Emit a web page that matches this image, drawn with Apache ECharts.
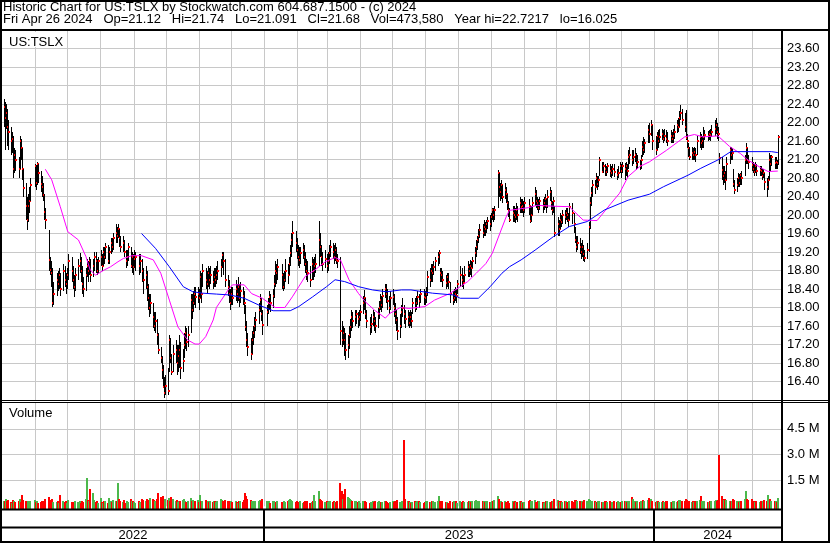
<!DOCTYPE html>
<html><head><meta charset="utf-8">
<script src="https://cdn.jsdelivr.net/npm/echarts@6.0.0/dist/echarts.min.js"></script>
<style>html,body{margin:0;padding:0;background:#fff}#c{width:830px;height:543px}</style>
</head><body><div id="c"></div><script>
// ---------- DATA ----------
const firstDay = [2022, 4, 2];   // May 2 2022
const lastDay = [2024, 3, 26];   // Apr 26 2024
const holidays = ['2022-05-30','2022-06-20','2022-07-04','2022-09-05','2022-11-24','2022-12-26',
 '2023-01-02','2023-01-16','2023-02-20','2023-04-07','2023-05-29','2023-06-19','2023-07-04','2023-09-04',
 '2023-11-23','2023-12-25','2024-01-01','2024-01-15','2024-02-19','2024-03-29'];

const close = [
22.34,22.10,22.20,21.90,21.80,21.60,21.65,21.00,21.30,21.20,
21.00,21.60,21.44,21.00,20.58,20.20,19.90,20.20,20.30,20.65,
21.05,20.70,21.10,20.90,20.67,20.60,20.43,20.07,19.89,19.03,
18.81,18.74,18.09,18.30,18.60,18.50,18.70,18.40,18.80,18.60,
18.50,18.70,19.00,18.80,18.60,18.45,18.70,18.90,19.00,18.80,
18.50,18.40,18.70,18.90,18.80,19.00,18.70,18.90,19.10,19.00,
18.80,19.00,19.10,18.90,19.20,19.10,19.30,19.00,19.20,19.40,
19.30,19.50,19.60,19.55,19.70,19.50,19.30,19.40,19.20,19.00,
19.10,19.30,18.90,19.10,18.88,19.05,19.10,18.90,19.00,18.80,
18.60,18.70,18.45,18.20,18.00,18.10,17.80,17.60,17.70,17.40,
17.08,16.90,16.65,16.29,16.15,16.30,16.20,17.30,16.90,16.60,
17.00,17.08,16.80,16.95,17.08,16.70,16.85,17.20,17.44,17.26,
17.40,18.16,17.95,18.10,18.30,18.23,18.30,18.20,18.67,18.30,
18.80,18.60,18.50,18.75,18.60,18.70,18.55,18.65,18.60,18.70,
18.80,18.88,19.13,19.00,18.60,18.45,18.30,18.10,18.30,18.20,
18.40,18.30,18.45,18.20,18.35,18.25,18.10,17.58,17.30,17.15,
17.00,17.30,17.44,17.60,17.73,17.95,18.16,17.87,17.62,17.90,
18.09,18.23,18.10,18.25,18.50,18.80,18.74,18.88,18.70,18.45,
18.60,18.80,18.70,18.95,19.17,19.46,19.60,19.40,19.24,19.10,
19.03,19.17,19.25,19.10,18.95,18.80,18.74,18.60,18.95,18.80,
18.90,18.95,19.46,19.30,19.10,18.95,19.05,18.90,19.00,19.17,
19.30,19.20,19.10,19.25,19.03,19.00,17.50,17.30,17.45,17.30,
17.08,17.20,17.40,17.58,17.80,17.70,17.80,17.85,17.75,17.80,
17.90,18.09,18.20,17.87,17.70,17.58,17.65,17.80,17.70,17.60,
17.85,18.00,18.16,18.05,18.25,18.41,18.30,18.15,18.00,18.20,
18.23,18.00,17.85,17.73,17.50,17.60,17.90,18.00,17.85,17.75,
17.80,17.66,17.80,17.70,18.09,18.00,18.10,18.23,18.15,18.30,
18.23,18.20,18.30,18.67,18.60,18.80,18.75,18.88,19.00,19.10,
19.17,18.74,18.70,18.60,18.52,18.65,18.55,18.30,18.16,18.20,
18.30,18.25,18.50,18.70,18.60,18.52,18.70,18.88,18.80,18.90,
18.85,19.00,19.17,19.30,19.46,19.55,19.67,19.60,19.75,19.70,
19.80,19.86,19.80,19.95,20.10,20.00,20.10,20.90,20.60,20.50,
20.65,20.40,20.55,20.45,20.25,20.10,19.90,20.05,20.00,19.95,
20.10,20.00,20.25,20.18,20.20,20.10,20.25,20.20,19.86,20.00,
20.25,20.45,20.30,20.25,20.15,20.30,20.20,20.25,20.35,20.20,
20.40,20.50,20.25,20.10,20.30,19.60,19.80,19.70,19.90,19.85,
20.00,19.95,20.05,20.00,19.90,20.18,20.05,19.80,19.46,19.30,
19.40,19.30,19.20,19.30,19.15,19.06,19.25,19.75,20.25,20.47,
20.65,20.60,20.80,20.68,20.75,21.19,20.94,21.05,21.00,20.94,
21.05,20.95,20.90,21.00,20.94,20.86,20.90,21.05,20.95,21.05,
21.00,21.05,20.95,21.26,21.30,21.19,21.25,21.30,21.08,21.15,
21.05,21.20,21.48,21.40,21.55,21.84,21.75,21.95,21.60,21.40,
21.70,21.60,21.69,21.75,21.65,21.70,21.65,21.60,21.70,21.65,
21.70,21.80,21.95,21.90,22.10,22.20,22.05,21.90,21.66,21.60,
21.44,21.26,21.35,21.30,21.37,21.30,21.60,21.69,21.55,21.60,
21.69,21.73,21.70,21.75,21.73,21.80,21.87,21.95,21.80,21.75,
21.23,20.97,20.85,20.90,20.75,21.10,21.40,21.30,21.35,20.68,
20.54,20.65,20.80,20.70,20.86,20.80,21.20,21.44,21.20,21.15,
21.08,21.00,20.94,21.05,20.95,20.97,20.95,20.85,20.90,20.72,
20.60,20.75,21.19,21.10,21.25,21.12,21.15,21.12,21.68];

const high = [
22.50,22.45,22.40,22.30,22.05,21.90,21.80,21.70,21.45,21.40,
21.25,21.70,21.65,21.45,21.00,20.70,20.40,20.45,20.60,20.80,
21.10,21.08,21.15,21.10,20.95,20.85,20.70,20.45,20.15,19.67,
19.10,19.00,18.85,18.55,18.75,18.80,18.85,18.75,18.95,18.90,
18.75,18.85,19.15,19.10,18.90,18.70,18.85,19.05,19.17,19.10,
18.90,18.65,18.85,19.05,19.00,19.10,19.05,19.05,19.20,19.20,
19.05,19.10,19.25,19.15,19.30,19.30,19.40,19.35,19.30,19.50,
19.50,19.60,19.80,19.75,19.80,19.70,19.55,19.55,19.45,19.25,
19.25,19.40,19.30,19.20,19.15,19.25,19.20,19.15,19.15,19.05,
18.85,18.90,18.80,18.50,18.30,18.30,18.10,17.90,17.90,17.75,
17.45,17.15,16.95,16.75,16.50,16.55,16.70,17.40,17.35,17.00,
17.20,17.30,17.20,17.20,17.40,17.25,17.10,17.45,17.60,17.55,
17.60,18.30,18.30,18.35,18.45,18.45,18.45,18.40,18.80,18.75,
18.95,18.85,18.80,18.90,18.85,18.90,18.80,18.85,18.85,18.90,
19.00,19.05,19.20,19.20,19.05,18.70,18.60,18.40,18.45,18.45,
18.60,18.50,18.65,18.50,18.55,18.45,18.35,18.05,17.70,17.45,
17.35,17.50,17.60,17.80,17.90,18.10,18.30,18.20,17.95,18.05,
18.20,18.35,18.30,18.40,18.70,19.00,18.95,19.05,18.95,18.75,
18.80,19.05,18.95,19.10,19.35,19.60,19.86,19.65,19.50,19.35,
19.30,19.30,19.40,19.35,19.20,19.05,19.00,18.90,19.10,19.05,
19.10,19.15,19.86,19.60,19.35,19.20,19.25,19.15,19.20,19.35,
19.45,19.40,19.35,19.40,19.30,19.15,19.10,17.70,17.60,17.55,
17.45,17.40,17.60,17.75,17.95,17.90,17.95,17.95,17.90,17.95,
18.05,18.25,18.38,18.20,17.95,17.80,17.85,17.95,17.90,17.80,
18.00,18.15,18.30,18.25,18.40,18.50,18.50,18.40,18.25,18.35,
18.40,18.30,18.10,17.95,17.80,17.85,18.05,18.20,18.05,17.95,
17.95,17.90,17.95,17.90,18.20,18.20,18.25,18.35,18.30,18.40,
18.40,18.35,18.45,18.80,18.85,18.95,18.95,19.00,19.10,19.20,
19.25,18.85,18.85,18.80,18.70,18.75,18.75,18.55,18.35,18.40,
18.45,18.40,18.60,18.90,18.85,18.70,18.90,19.00,18.95,19.03,
19.00,19.10,19.30,19.45,19.55,19.70,19.80,19.80,19.89,19.85,
19.90,19.95,20.00,20.05,20.15,20.15,20.20,20.97,20.90,20.70,
20.75,20.65,20.70,20.60,20.45,20.30,20.15,20.20,20.20,20.15,
20.25,20.20,20.40,20.35,20.35,20.30,20.40,20.35,20.20,20.20,
20.40,20.60,20.55,20.40,20.35,20.40,20.35,20.40,20.45,20.35,
20.55,20.60,20.55,20.30,20.40,20.20,19.95,19.90,20.05,20.00,
20.10,20.10,20.15,20.15,20.05,20.25,20.25,20.05,19.75,19.55,
19.55,19.50,19.40,19.45,19.35,19.25,19.40,19.85,20.40,20.60,
20.76,20.75,20.90,20.85,20.85,21.25,21.15,21.15,21.10,21.05,
21.12,21.10,21.05,21.10,21.10,21.00,21.05,21.15,21.10,21.15,
21.12,21.15,21.10,21.40,21.48,21.40,21.40,21.45,21.33,21.30,
21.20,21.30,21.60,21.69,21.65,21.95,22.00,22.05,21.95,21.70,
21.80,21.84,21.87,21.87,21.84,21.85,21.84,21.80,21.84,21.80,
21.85,21.95,22.05,22.10,22.25,22.38,22.30,22.20,22.27,21.75,
21.55,21.48,21.48,21.45,21.48,21.45,21.70,21.80,21.75,21.70,
21.91,21.84,21.82,21.84,21.85,21.95,22.05,22.09,22.00,21.90,
21.33,21.25,21.05,21.05,20.95,21.25,21.48,21.48,21.45,21.00,
20.75,20.80,20.90,20.88,20.90,20.95,21.30,21.55,21.45,21.30,
21.26,21.15,21.10,21.15,21.10,21.05,21.05,21.00,21.00,20.90,
20.80,20.85,21.33,21.30,21.30,21.25,21.25,21.20,21.74];

const low = [
21.90,21.40,21.85,21.50,21.40,21.30,21.35,20.80,20.90,20.95,
20.80,21.00,21.20,20.75,20.40,19.90,19.67,19.85,20.05,20.30,
20.60,20.55,20.65,20.70,20.50,20.40,20.30,19.90,19.70,18.80,
18.70,18.45,18.02,18.05,18.25,18.35,18.40,18.25,18.35,18.45,
18.30,18.40,18.60,18.55,18.40,18.23,18.35,18.60,18.75,18.55,
18.30,18.23,18.35,18.65,18.55,18.70,18.55,18.65,18.80,18.75,
18.70,18.75,18.90,18.80,18.90,18.95,19.05,18.95,18.95,19.15,
19.20,19.25,19.40,19.40,19.50,19.30,19.20,19.20,19.10,18.85,
18.90,19.00,18.85,18.75,18.70,18.85,18.80,18.70,18.75,18.55,
18.30,18.40,18.15,17.95,17.80,17.85,17.55,17.50,17.45,17.20,
17.00,16.80,16.45,16.25,16.04,16.10,16.10,16.60,16.80,16.55,
16.60,16.80,16.55,16.60,16.70,16.45,16.60,16.90,17.10,17.05,
17.15,17.45,17.75,17.90,18.05,18.00,18.10,17.95,18.20,18.10,
18.45,18.40,18.30,18.45,18.40,18.50,18.40,18.45,18.45,18.50,
18.60,18.65,18.85,18.70,18.45,18.25,18.10,17.95,18.05,18.05,
18.15,18.10,18.15,18.02,18.10,18.05,17.85,17.50,17.15,16.95,
16.87,17.00,17.20,17.35,17.50,17.65,17.90,17.70,17.40,17.60,
17.85,17.95,17.90,18.00,18.20,18.45,18.50,18.60,18.40,18.35,
18.40,18.55,18.50,18.70,18.90,19.10,19.30,19.20,19.05,18.90,
18.85,18.95,19.05,18.90,18.75,18.60,18.55,18.45,18.60,18.60,
18.65,18.75,18.90,19.10,18.90,18.80,18.85,18.75,18.80,18.95,
19.10,19.05,18.95,19.00,18.95,18.85,17.20,17.15,17.20,16.95,
16.86,16.90,17.10,17.35,17.50,17.55,17.60,17.65,17.55,17.60,
17.70,17.85,17.95,17.75,17.55,17.40,17.45,17.60,17.50,17.45,
17.55,17.75,17.95,17.90,18.00,18.20,18.10,17.95,17.85,17.95,
18.05,17.80,17.65,17.50,17.30,17.35,17.55,17.80,17.65,17.55,
17.60,17.55,17.60,17.55,17.85,17.90,17.95,18.05,18.00,18.10,
18.05,18.05,18.10,18.25,18.45,18.55,18.55,18.70,18.80,18.90,
18.95,18.55,18.55,18.45,18.40,18.45,18.40,18.10,18.05,18.10,
18.15,18.10,18.30,18.45,18.45,18.40,18.55,18.65,18.65,18.70,
18.65,18.85,18.95,19.10,19.25,19.40,19.50,19.50,19.55,19.55,
19.60,19.70,19.65,19.75,19.90,19.85,19.90,20.15,20.40,20.30,
20.35,20.25,20.35,20.25,20.10,19.95,19.85,19.85,19.85,19.82,
19.90,19.85,20.05,20.05,20.05,19.95,20.05,20.00,19.82,19.85,
20.00,20.20,20.15,20.10,20.05,20.10,20.05,20.10,20.15,20.05,
20.15,20.30,20.10,20.00,20.05,19.53,19.55,19.55,19.70,19.75,
19.80,19.80,19.90,19.85,19.75,19.90,19.80,19.60,19.40,19.20,
19.25,19.15,19.05,19.10,19.00,18.98,19.05,19.20,19.70,20.20,
20.40,20.45,20.60,20.55,20.60,20.85,20.90,20.90,20.85,20.85,
20.90,20.83,20.80,20.85,20.83,20.75,20.80,20.90,20.80,20.90,
20.76,20.85,20.80,21.00,21.10,21.05,21.10,21.15,20.97,21.00,
20.97,21.00,21.26,21.30,21.35,21.55,21.55,21.70,21.40,21.30,
21.40,21.45,21.55,21.62,21.55,21.60,21.55,21.50,21.55,21.55,
21.55,21.65,21.77,21.80,21.90,22.05,21.95,21.80,21.62,21.45,
21.25,21.19,21.20,21.19,21.20,21.15,21.30,21.45,21.40,21.45,
21.45,21.62,21.60,21.62,21.60,21.69,21.70,21.75,21.65,21.60,
21.10,20.76,20.65,20.70,20.54,20.75,21.10,21.19,21.20,20.60,
20.45,20.50,20.61,20.60,20.65,20.65,20.85,21.10,21.10,21.00,
20.95,20.90,20.85,20.90,20.85,20.85,20.85,20.75,20.80,20.55,
20.40,20.55,20.75,20.95,21.05,21.00,21.00,21.00,21.09];

// volume in thousands of shares
const volumeK = [
320,280,450,300,380,260,200,350,280,240,
300,420,250,680,380,290,260,330,220,280,
350,240,300,200,260,310,250,330,400,520,
380,300,450,260,240,300,220,680,280,250,
300,220,350,260,180,240,300,260,330,200,
280,250,420,1640,380,300,1030,800,350,260,
300,220,480,250,200,330,280,220,480,300,
260,350,300,280,1380,420,300,250,380,220,
300,260,450,280,330,250,200,330,260,400,
350,300,420,380,300,500,450,380,300,420,
760,520,450,600,380,420,350,480,300,520,
400,320,380,260,300,280,350,420,300,260,
300,480,280,350,260,300,380,250,650,300,
280,350,220,300,260,320,240,300,280,250,
300,420,380,280,350,300,260,330,280,250,
300,250,220,330,280,260,380,800,600,420,
350,300,280,260,330,300,350,280,420,300,
260,300,220,280,330,260,240,300,250,220,
280,250,300,350,420,380,300,260,280,240,
250,300,220,260,280,240,300,220,250,300,
680,320,880,450,380,300,260,280,250,300,
280,250,300,240,260,300,1340,900,450,700,
1000,520,480,400,350,300,280,320,250,300,
220,280,250,300,260,220,240,300,260,280,
250,300,220,260,240,280,300,250,220,260,
300,240,280,220,350,260,240,300,3840,420,
300,280,250,220,260,300,240,280,300,250,
220,260,280,300,250,240,280,300,260,320,
620,280,250,300,260,240,220,300,250,280,
260,300,220,280,250,300,240,260,300,280,
250,300,280,350,300,260,280,320,300,250,
280,300,260,240,300,280,350,620,400,300,
280,250,300,260,240,300,220,280,250,300,
260,240,280,300,250,220,260,300,350,280,
300,380,260,240,280,300,250,220,260,280,
300,260,240,280,300,400,350,280,260,300,
250,280,300,240,260,300,280,260,350,380,
300,280,250,300,260,350,300,420,380,300,
280,300,260,250,280,300,240,260,280,300,
250,300,260,240,280,250,300,260,240,280,
300,280,260,320,300,550,400,300,260,280,
250,300,280,350,300,380,500,420,300,260,
300,280,260,250,300,240,280,300,260,250,
280,300,260,320,350,380,300,280,400,350,
300,280,250,300,260,280,300,350,620,300,
280,300,250,260,280,300,320,380,300,350,
2960,600,450,380,420,350,300,320,280,400,
350,300,280,260,300,280,400,860,420,350,
450,300,280,260,300,250,280,260,300,350,
300,680,350,400,300,280,320,250,474];

// moving averages: [bar index, value]
const maPink = [[28,20.99],[32,20.76],[37,20.18],[42,19.64],[47,19.46],[52,19.10],[56,18.81],[59,18.70],[65,18.81],[69,18.88],[74,18.99],[77,19.06],[83,19.12],[89,19.12],[96,19.03],[101,18.74],[107,18.16],[113,17.58],[120,17.30],[125,17.21],[127,17.21],[131,17.37],[136,17.73],[139,18.00],[145,18.38],[149,18.49],[156,18.49],[161,18.30],[168,18.20],[175,18.00],[181,18.00],[186,18.23],[190,18.45],[194,18.67],[201,18.81],[206,18.99],[210,19.03],[213,19.08],[216,19.03],[222,18.60],[229,18.30],[233,18.13],[239,17.94],[245,17.77],[249,17.87],[255,18.00],[261,17.98],[271,18.02],[278,18.16],[287,18.30],[293,18.45],[297,18.56],[303,18.74],[310,18.95],[314,19.17],[319,19.60],[323,19.96],[326,20.10],[337,20.16],[343,20.21],[354,20.19],[365,20.18],[374,19.89],[383,19.88],[392,20.25],[397,20.47],[403,20.83],[410,21.05],[416,21.15],[427,21.40],[437,21.69],[444,21.74],[450,21.69],[459,21.71],[466,21.48],[474,21.33],[479,21.19],[487,21.01],[491,20.94],[498,20.95]];
const maBlue = [[89,19.60],[98,19.28],[107,18.88],[116,18.45],[123,18.34],[130,18.31],[139,18.29],[147,18.27],[156,18.20],[165,18.05],[173,17.93],[184,17.93],[190,18.02],[199,18.23],[207,18.45],[213,18.60],[220,18.56],[229,18.45],[237,18.38],[246,18.34],[256,18.38],[263,18.38],[276,18.31],[289,18.27],[293,18.20],[305,18.20],[312,18.45],[321,18.74],[326,18.88],[333,19.03],[341,19.24],[354,19.53],[365,19.75],[376,19.86],[388,20.11],[403,20.32],[416,20.45],[424,20.61],[440,20.86],[448,21.01],[459,21.19],[467,21.37],[494,21.37],[498,21.35]];

const yearLabels = ['2022', '2023', '2024'];
const headerLine1 = 'Historic Chart for US:TSLX by Stockwatch.com 604.687.1500 - (c) 2024';
const headerFields = ['Fri Apr 26 2024','Op=21.12','Hi=21.74','Lo=21.091','Cl=21.68','Vol=473,580','Year hi=22.7217','lo=16.025'];
const symbolLabel = 'US:TSLX';
const volumeLabel = 'Volume';
const priceMin = 16, priceMax = 24, priceStep = 0.4;
const volMax = 6000000, volStep = 1500000;

// ---------- BUILD ----------
const pad = n => (n < 10 ? '0' : '') + n;
const hol = new Set(holidays);
const dates = [];
for (let d = new Date(firstDay[0], firstDay[1], firstDay[2]); d <= new Date(lastDay[0], lastDay[1], lastDay[2]); d.setDate(d.getDate() + 1)) {
  const wd = d.getDay();
  const key = d.getFullYear() + '-' + pad(d.getMonth() + 1) + '-' + pad(d.getDate());
  if (wd === 0 || wd === 6 || hol.has(key)) continue;
  dates.push(new Date(d.getFullYear(), d.getMonth(), d.getDate(), 12).getTime());
}
const N = Math.min(dates.length, close.length, high.length, low.length, volumeK.length);
const ohlc = [], vol = [];
for (let i = 0; i < N; i++) {
  ohlc.push([dates[i], high[i], low[i], close[i]]);
  const dir = i === 0 ? 1 : Math.sign(Math.round((close[i] - close[i - 1]) * 1000));
  vol.push([dates[i], volumeK[i] * 1000, dir]);
}
const axisMin = new Date(2022, 4, 1).getTime();
const axisMax = new Date(2024, 3, 28, 12).getTime();
const monthStarts = [];
for (let y = 2022, m = 5; ; m++) {
  if (m > 11) { m = 0; y++; }
  const t = new Date(y, m, 1).getTime();
  if (t > axisMax) break;
  monthStarts.push(t);
}
const yearStarts = [new Date(2023, 0, 1).getTime(), new Date(2024, 0, 1).getTime()];
const yearBounds = [axisMin, ...yearStarts, axisMax];
const yearMid = yearLabels.map((_, k) => [(yearBounds[k] + yearBounds[k + 1]) / 2, 0.5, k]);

const FONT = '13px "Liberation Sans", Arial, sans-serif';
const GRIDC = '#c8c8c8';

function vLineSeries(idx, list, color, width, z) {
  return {
    type: 'custom', xAxisIndex: idx, yAxisIndex: idx, z, silent: true, clip: false,
    encode: { x: 0, y: 1 },
    data: list.map(t => [t, 0]),
    renderItem(params, api) {
      const cs = params.coordSys;
      let x = api.coord([api.value(0), 0])[0];
      x = width % 2 ? Math.round(x) + 0.5 : Math.round(x);
      return { type: 'line', shape: { x1: x, y1: cs.y, x2: x, y2: cs.y + cs.height }, style: { stroke: color, lineWidth: width } };
    }
  };
}

const chart = echarts.init(document.getElementById('c'), null, { renderer: 'canvas' });
const timeAxis = i => ({ type: 'time', gridIndex: i, min: axisMin, max: axisMax, show: false });

chart.setOption({
  animation: false,
  backgroundColor: '#ffffff',
  grid: [
    { left: 2, width: 779, top: 30, height: 370 },
    { left: 2, width: 779, top: 403, height: 103.3 },
    { left: 2, width: 779, top: 509, height: 33 }
  ],
  xAxis: [timeAxis(0), timeAxis(1), timeAxis(2)],
  yAxis: [
    { type: 'value', gridIndex: 0, position: 'right', min: priceMin, max: priceMax, interval: priceStep,
      axisLine: { show: false }, axisTick: { show: false },
      splitLine: { show: true, lineStyle: { color: GRIDC, width: 1 } },
      axisLabel: { show: true, margin: 6, color: '#000', fontFamily: '"Liberation Sans", Arial, sans-serif', fontSize: 13,
        showMinLabel: false, showMaxLabel: false, formatter: v => v.toFixed(2) } },
    { type: 'value', gridIndex: 1, position: 'right', min: 0, max: volMax, interval: volStep,
      axisLine: { show: false }, axisTick: { show: false },
      splitLine: { show: true, showMinLine: false, showMaxLine: false, lineStyle: { color: GRIDC, width: 1 } },
      axisLabel: { show: true, margin: 6, color: '#000', fontFamily: '"Liberation Sans", Arial, sans-serif', fontSize: 13,
        showMinLabel: false, showMaxLabel: false, formatter: v => (v / 1e6).toFixed(1) + ' M' } },
    { type: 'value', gridIndex: 2, min: 0, max: 1, show: false }
  ],
  series: [
    vLineSeries(0, monthStarts, GRIDC, 1, 1),
    vLineSeries(1, monthStarts, GRIDC, 1, 1),
    {
      type: 'custom', name: 'price', xAxisIndex: 0, yAxisIndex: 0, z: 3, silent: true,
      encode: { x: 0, y: [1, 2, 3] },
      data: ohlc,
      renderItem(params, api) {
        const t = api.value(0);
        const hi = api.coord([t, api.value(1)]);
        const lo = api.coord([t, api.value(2)]);
        const cl = api.coord([t, api.value(3)]);
        const x = Math.round(hi[0]);
        return { type: 'group', children: [
          { type: 'rect', shape: { x: x, y: Math.round(hi[1]), width: 1, height: Math.max(1, Math.round(lo[1]) - Math.round(hi[1])) }, style: { fill: '#000' } },
          { type: 'rect', shape: { x: x, y: Math.round(cl[1]) - 1, width: 2, height: 2 }, style: { fill: '#ff0000' } }
        ] };
      }
    },
    { type: 'line', xAxisIndex: 0, yAxisIndex: 0, z: 4, silent: true, showSymbol: false, symbol: 'none',
      data: maPink.map(([i, v]) => [dates[i], v]), lineStyle: { color: '#ff00ff', width: 1 } },
    { type: 'line', xAxisIndex: 0, yAxisIndex: 0, z: 4, silent: true, showSymbol: false, symbol: 'none',
      data: maBlue.map(([i, v]) => [dates[i], v]), lineStyle: { color: '#0000ff', width: 1 } },
    {
      type: 'custom', name: 'volume', xAxisIndex: 1, yAxisIndex: 1, z: 3, silent: true, clip: false,
      encode: { x: 0, y: 1 },
      data: vol,
      renderItem(params, api) {
        const cs = params.coordSys;
        const p = api.coord([api.value(0), api.value(1)]);
        const base = cs.y + cs.height + 3;
        const d = api.value(2);
        const c = d > 0 ? '#4cb84c' : d < 0 ? '#ff0000' : '#a8a8a8';
        const x = Math.round(p[0]) - 1;
        return { type: 'rect', shape: { x, y: Math.round(p[1]), width: 2, height: base - Math.round(p[1]) }, style: { fill: c } };
      }
    },
    vLineSeries(2, yearStarts, '#000', 2, 5),
    {
      type: 'custom', xAxisIndex: 2, yAxisIndex: 2, z: 5, silent: true, clip: false,
      encode: { x: 0, y: 1 },
      data: yearMid,
      renderItem(params, api) {
        const cs = params.coordSys;
        const x = api.coord([api.value(0), 0.5])[0];
        return { type: 'text', x: x, y: cs.y + 26, style: { text: yearLabels[api.value(2)], align: 'center', verticalAlign: 'middle', font: FONT, fill: '#000' } };
      }
    }
  ],
  graphic: [
    { type: 'text', x: 3, y: 7.5, z: 100, style: { text: headerLine1, font: FONT, fill: '#000', verticalAlign: 'middle' } },
    { type: 'text', x: 3, y: 19.5, z: 100, style: { text: headerFields.join('   '), font: FONT, fill: '#000', verticalAlign: 'middle' } },
    { type: 'rect', z: 90, shape: { x: 2, y: 32, width: 62, height: 15 }, style: { fill: '#fff' } },
    { type: 'text', x: 9, y: 42, z: 100, style: { text: symbolLabel, font: FONT, fill: '#000', verticalAlign: 'middle' } },
    { type: 'text', x: 9, y: 413.5, z: 100, style: { text: volumeLabel, font: FONT, fill: '#000', verticalAlign: 'middle' } },
    { type: 'rect', z: 100, shape: { x: 1, y: 1, width: 828, height: 541 }, style: { fill: null, stroke: '#000', lineWidth: 2 } },
    { type: 'line', z: 100, shape: { x1: 0, y1: 30, x2: 830, y2: 30 }, style: { stroke: '#000', lineWidth: 2 } },
    { type: 'line', z: 100, shape: { x1: 782, y1: 30, x2: 782, y2: 543 }, style: { stroke: '#000', lineWidth: 2 } },
    { type: 'line', z: 100, shape: { x1: 0, y1: 400.5, x2: 830, y2: 400.5 }, style: { stroke: '#000', lineWidth: 1 } },
    { type: 'line', z: 100, shape: { x1: 0, y1: 402.5, x2: 830, y2: 402.5 }, style: { stroke: '#000', lineWidth: 1 } },
    { type: 'line', z: 100, shape: { x1: 0, y1: 509.5, x2: 782, y2: 509.5 }, style: { stroke: '#000', lineWidth: 2 } },
    { type: 'line', z: 100, shape: { x1: 0, y1: 527.5, x2: 782, y2: 527.5 }, style: { stroke: '#000', lineWidth: 2 } }
  ]
});
</script></body></html>
